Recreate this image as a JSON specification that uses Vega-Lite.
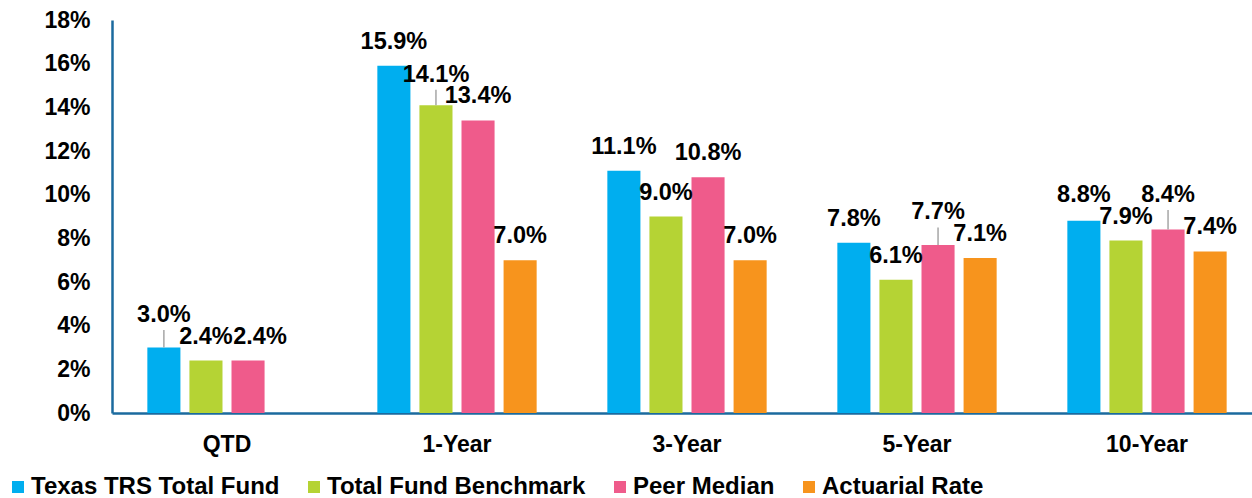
{
  "$schema": "https://vega.github.io/schema/vega-lite/v6.json",
  "autosize": {"type": "none"},
  "padding": {"left": 112, "top": 20, "right": 0, "bottom": 85},
  "width": 1140,
  "height": 393,
  "background": "white",
  "config": {
    "view": {"stroke": null},
    "font": "Liberation Sans"
  },
  "data": {
    "values": [
      {"period": "QTD", "series": "Texas TRS Total Fund", "value": 0.030},
      {"period": "QTD", "series": "Total Fund Benchmark", "value": 0.024},
      {"period": "QTD", "series": "Peer Median", "value": 0.024},
      {"period": "1-Year", "series": "Texas TRS Total Fund", "value": 0.159},
      {"period": "1-Year", "series": "Total Fund Benchmark", "value": 0.141},
      {"period": "1-Year", "series": "Peer Median", "value": 0.134},
      {"period": "1-Year", "series": "Actuarial Rate", "value": 0.070},
      {"period": "3-Year", "series": "Texas TRS Total Fund", "value": 0.111},
      {"period": "3-Year", "series": "Total Fund Benchmark", "value": 0.090},
      {"period": "3-Year", "series": "Peer Median", "value": 0.108},
      {"period": "3-Year", "series": "Actuarial Rate", "value": 0.070},
      {"period": "5-Year", "series": "Texas TRS Total Fund", "value": 0.078},
      {"period": "5-Year", "series": "Total Fund Benchmark", "value": 0.061},
      {"period": "5-Year", "series": "Peer Median", "value": 0.077},
      {"period": "5-Year", "series": "Actuarial Rate", "value": 0.071},
      {"period": "10-Year", "series": "Texas TRS Total Fund", "value": 0.088},
      {"period": "10-Year", "series": "Total Fund Benchmark", "value": 0.079},
      {"period": "10-Year", "series": "Peer Median", "value": 0.084},
      {"period": "10-Year", "series": "Actuarial Rate", "value": 0.074}
    ]
  },
  "transform": [
    {"calculate": "indexof(['Texas TRS Total Fund', 'Total Fund Benchmark', 'Peer Median', 'Actuarial Rate'], datum.series)", "as": "ord"},
    {
      "window": [
        {"op": "lag", "field": "value", "as": "prevV"},
        {"op": "lead", "field": "value", "as": "nextV"}
      ],
      "groupby": ["period"],
      "sort": [{"field": "ord", "order": "ascending"}]
    },
    {"calculate": "max(datum.value, (datum.nextV != null && datum.value > datum.nextV && datum.value - datum.nextV < 0.0099) ? datum.nextV + 0.01 : 0, (datum.prevV != null && datum.value > datum.prevV && datum.value - datum.prevV < 0.0099) ? datum.prevV + 0.01 : 0)", "as": "labelY"},
    {"calculate": "datum.labelY + 0.004", "as": "leaderTop"},
    {"calculate": "datum.prevV != null && datum.value == datum.prevV", "as": "sameAsPrev"}
  ],
  "encoding": {
    "x": {
      "field": "period",
      "type": "nominal",
      "sort": ["QTD", "1-Year", "3-Year", "5-Year", "10-Year"],
      "scale": {"range": [0, 1150], "paddingInner": 0, "paddingOuter": 0},
      "axis": {
        "title": null,
        "labelAngle": 0,
        "ticks": false,
        "labelPadding": 20,
        "labelFont": "Liberation Sans",
        "labelFontSize": 23,
        "labelFontWeight": "bold",
        "labelColor": "#000000",
        "domainColor": "#1B6A9E",
        "domainWidth": 2.5,
        "grid": false
      }
    },
    "xOffset": {
      "field": "series",
      "type": "nominal",
      "scale": {
        "domain": ["Texas TRS Total Fund", "Total Fund Benchmark", "Peer Median", "Actuarial Rate"],
        "paddingInner": 0.214,
        "paddingOuter": 0.84
      }
    },
    "y": {
      "field": "value",
      "type": "quantitative",
      "scale": {"domain": [0, 0.18], "nice": false},
      "axis": {
        "title": null,
        "values": [0, 0.02, 0.04, 0.06, 0.08, 0.10, 0.12, 0.14, 0.16, 0.18],
        "format": ".0%",
        "ticks": false,
        "grid": false,
        "labelPadding": 22,
        "labelFont": "Liberation Sans",
        "labelFontSize": 23,
        "labelFontWeight": "bold",
        "labelColor": "#000000",
        "domainColor": "#1B6A9E",
        "domainWidth": 2.5
      }
    }
  },
  "layer": [
    {
      "mark": {"type": "bar"},
      "encoding": {
        "color": {
          "field": "series",
          "type": "nominal",
          "scale": {
            "domain": ["Texas TRS Total Fund", "Total Fund Benchmark", "Peer Median", "Actuarial Rate"],
            "range": ["#00AEEF", "#B5D334", "#EF5B8B", "#F7941D"]
          },
          "legend": {
            "title": null,
            "orient": "none",
            "direction": "horizontal",
            "legendX": -106,
            "legendY": 455,
            "padding": 0,
            "symbolType": "square",
            "symbolSize": 144,
            "symbolStrokeWidth": 0,
            "labelOffset": 1,
            "columnPadding": 22,
            "labelFont": "Liberation Sans",
            "labelFontSize": 24,
            "labelFontWeight": "bold",
            "labelColor": "#000000",
            "labelLimit": 400
          }
        }
      }
    },
    {
      "transform": [{"filter": "datum.labelY - datum.value > 0.002"}],
      "mark": {"type": "rule", "color": "#A6A6A6", "strokeWidth": 1.5},
      "encoding": {
        "y": {"field": "value", "type": "quantitative"},
        "y2": {"field": "leaderTop"}
      }
    },
    {
      "transform": [{"filter": "!datum.sameAsPrev"}],
      "mark": {
        "type": "text",
        "baseline": "middle",
        "align": "center",
        "dy": -24,
        "font": "Liberation Sans",
        "fontSize": 23.5,
        "fontWeight": "bold",
        "color": "#000000"
      },
      "encoding": {
        "y": {"field": "labelY", "type": "quantitative"},
        "text": {"field": "value", "type": "quantitative", "format": ".1%"}
      }
    },
    {
      "transform": [{"filter": "datum.sameAsPrev"}],
      "mark": {
        "type": "text",
        "baseline": "middle",
        "align": "center",
        "dy": -24,
        "dx": 12,
        "font": "Liberation Sans",
        "fontSize": 23.5,
        "fontWeight": "bold",
        "color": "#000000"
      },
      "encoding": {
        "y": {"field": "labelY", "type": "quantitative"},
        "text": {"field": "value", "type": "quantitative", "format": ".1%"}
      }
    }
  ]
}
